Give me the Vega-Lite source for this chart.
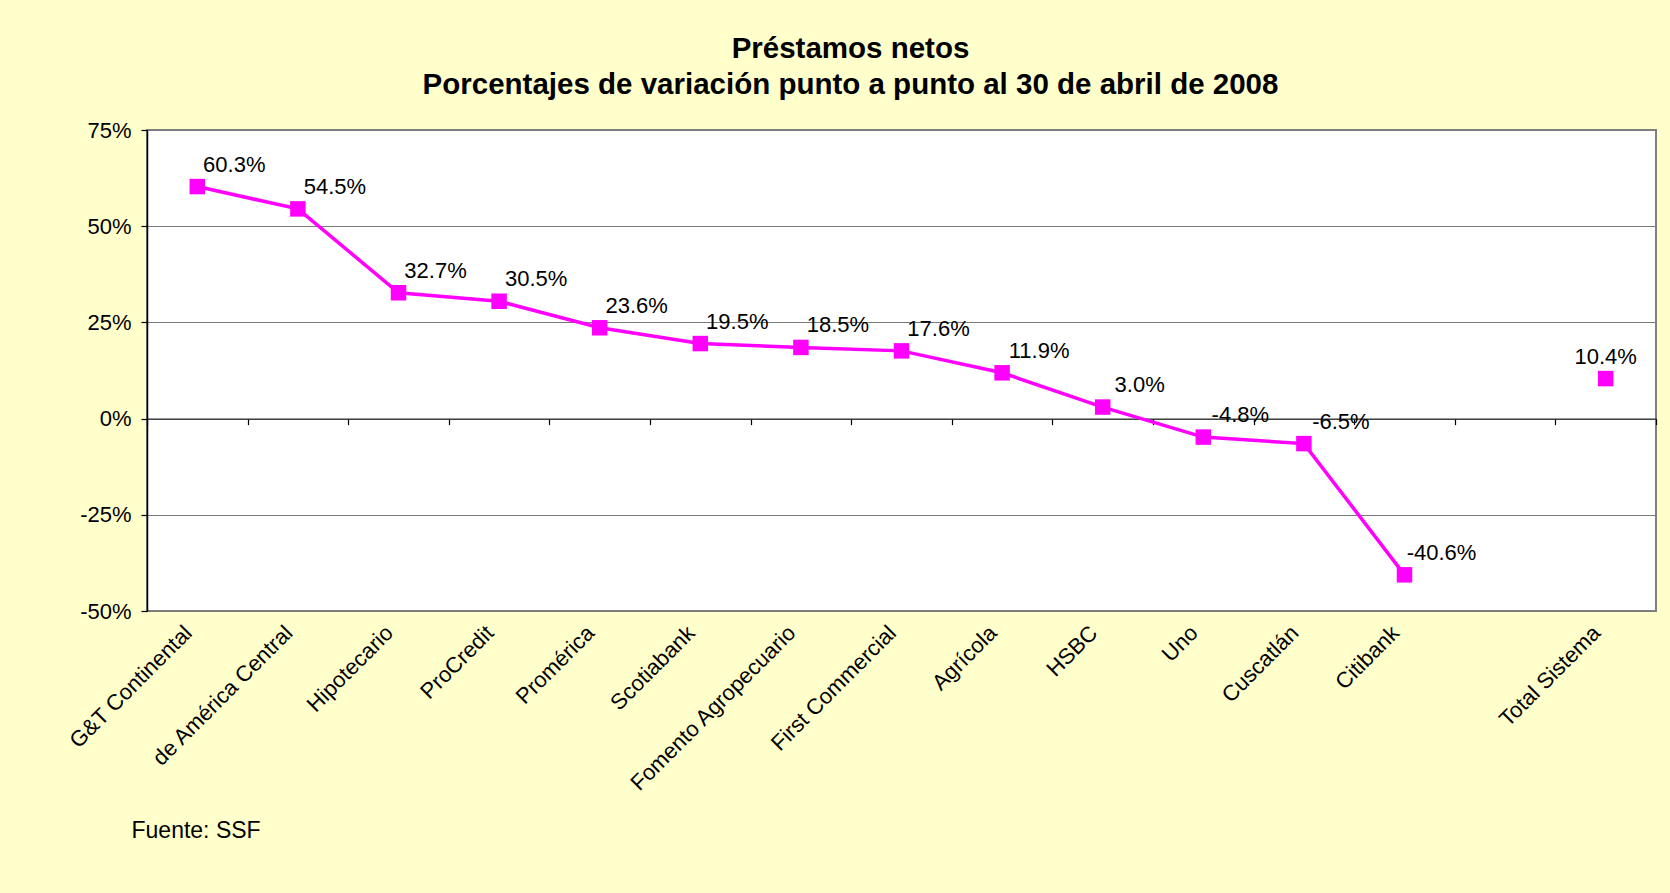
{
  "$schema": "https://vega.github.io/schema/vega-lite/v6.json",
  "autosize": {"type": "none"},
  "width": 1509,
  "height": 481,
  "padding": {"left": 147, "top": 130, "right": 14, "bottom": 282},
  "background": "#FFFFCC",
  "title": {
    "text": ["Préstamos netos", "Porcentajes de variación punto a punto al 30 de abril de 2008"],
    "font": "Liberation Sans",
    "fontSize": 29.5,
    "fontWeight": "bold",
    "color": "black",
    "anchor": "middle",
    "dx": -51,
    "offset": 19,
    "lineHeight": 36
  },
  "config": {
    "view": {"fill": "white", "stroke": "#808080", "strokeWidth": 2},
    "font": "Liberation Sans"
  },
  "data": {
    "values": [
      {"banco": "G&T Continental", "valor": 0.603, "grupo": "Bancos"},
      {"banco": "de América Central", "valor": 0.545, "grupo": "Bancos"},
      {"banco": "Hipotecario", "valor": 0.327, "grupo": "Bancos"},
      {"banco": "ProCredit", "valor": 0.305, "grupo": "Bancos"},
      {"banco": "Promérica", "valor": 0.236, "grupo": "Bancos"},
      {"banco": "Scotiabank", "valor": 0.195, "grupo": "Bancos"},
      {"banco": "Fomento Agropecuario", "valor": 0.185, "grupo": "Bancos"},
      {"banco": "First Commercial", "valor": 0.176, "grupo": "Bancos"},
      {"banco": "Agrícola", "valor": 0.119, "grupo": "Bancos"},
      {"banco": "HSBC", "valor": 0.030, "grupo": "Bancos"},
      {"banco": "Uno", "valor": -0.048, "grupo": "Bancos"},
      {"banco": "Cuscatlán", "valor": -0.065, "grupo": "Bancos"},
      {"banco": "Citibank", "valor": -0.406, "grupo": "Bancos"},
      {"banco": "Total Sistema", "valor": 0.104, "grupo": "Total"}
    ]
  },
  "encoding": {
    "y": {
      "field": "valor",
      "type": "quantitative",
      "scale": {"domain": [-0.5, 0.75], "nice": false, "zero": false},
      "axis": {
        "values": [-0.5, -0.25, 0, 0.25, 0.5, 0.75],
        "labelExpr": "replace(format(datum.value, '.0%'), '\u2212', '-')",
        "title": null,
        "grid": true,
        "gridColor": "#7a7a7a",
        "gridWidth": 1.2,
        "domain": true,
        "domainColor": "black",
        "domainWidth": 1.5,
        "tickColor": "black",
        "tickSize": 6,
        "tickWidth": 1.2,
        "labelFontSize": 22,
        "labelColor": "black",
        "labelPadding": 10,
        "labelFont": "Liberation Sans"
      }
    }
  },
  "layer": [
    {
      "mark": {"type": "line", "color": "#FF00FF", "strokeWidth": 3.5},
      "encoding": {
        "x": {
          "field": "banco",
          "type": "nominal",
          "bandPosition": 0.5,
          "scale": {
            "type": "band",
            "paddingInner": 0,
            "paddingOuter": 0,
            "domain": ["G&T Continental", "de América Central", "Hipotecario", "ProCredit", "Promérica", "Scotiabank", "Fomento Agropecuario", "First Commercial", "Agrícola", "HSBC", "Uno", "Cuscatlán", "Citibank", " ", "Total Sistema"]
          },
          "axis": {
            "orient": "bottom",
            "ticks": false,
            "domain": false,
            "grid": false,
            "labelAngle": -45,
            "labelAlign": "right",
            "labelBaseline": "middle",
            "labelPadding": 18,
            "labelOffset": -9,
            "labelFontSize": 22,
            "labelColor": "black",
            "labelFont": "Liberation Sans",
            "labelOverlap": false,
            "labelBound": false,
            "labelLimit": 0,
            "title": "Fuente: SSF",
            "titleFont": "Liberation Sans",
            "titleFontSize": 23,
            "titleFontWeight": "normal",
            "titleColor": "black",
            "titleX": -16,
            "titleY": 219,
            "titleAlign": "left",
            "titleAnchor": "start",
            "titleBaseline": "middle"
          }
        },
        "detail": {"field": "grupo"}
      }
    },
    {
      "mark": {"type": "point", "shape": "square", "filled": true, "color": "#FF00FF", "size": 240, "opacity": 1},
      "encoding": {
        "x": {
          "field": "banco",
          "type": "nominal",
          "bandPosition": 0.5,
          "axis": {
            "orient": "bottom",
            "offset": -192.4,
            "labels": false,
            "ticks": true,
            "tickBand": "extent",
            "tickSize": 6,
            "tickColor": "black",
            "tickWidth": 1.2,
            "domain": true,
            "domainColor": "#303030",
            "domainWidth": 1.2,
            "grid": false,
            "title": null
          }
        }
      }
    },
    {
      "transform": [{"filter": "datum.grupo === 'Bancos'"}],
      "mark": {
        "type": "text",
        "dx": 37,
        "dy": -22,
        "fontSize": 22,
        "align": "center",
        "baseline": "middle",
        "color": "black",
        "font": "Liberation Sans",
        "text": {"expr": "replace(format(datum.valor, '.1%'), '\u2212', '-')"}
      },
      "encoding": {
        "x": {"field": "banco", "type": "nominal", "bandPosition": 0.5, "axis": null}
      }
    },
    {
      "transform": [{"filter": "datum.grupo === 'Total'"}],
      "mark": {
        "type": "text",
        "dx": 0,
        "dy": -22,
        "fontSize": 22,
        "align": "center",
        "baseline": "middle",
        "color": "black",
        "font": "Liberation Sans",
        "text": {"expr": "replace(format(datum.valor, '.1%'), '\u2212', '-')"}
      },
      "encoding": {
        "x": {"field": "banco", "type": "nominal", "bandPosition": 0.5, "axis": null}
      }
    }
  ],
  "resolve": {"axis": {"x": "independent"}}
}
